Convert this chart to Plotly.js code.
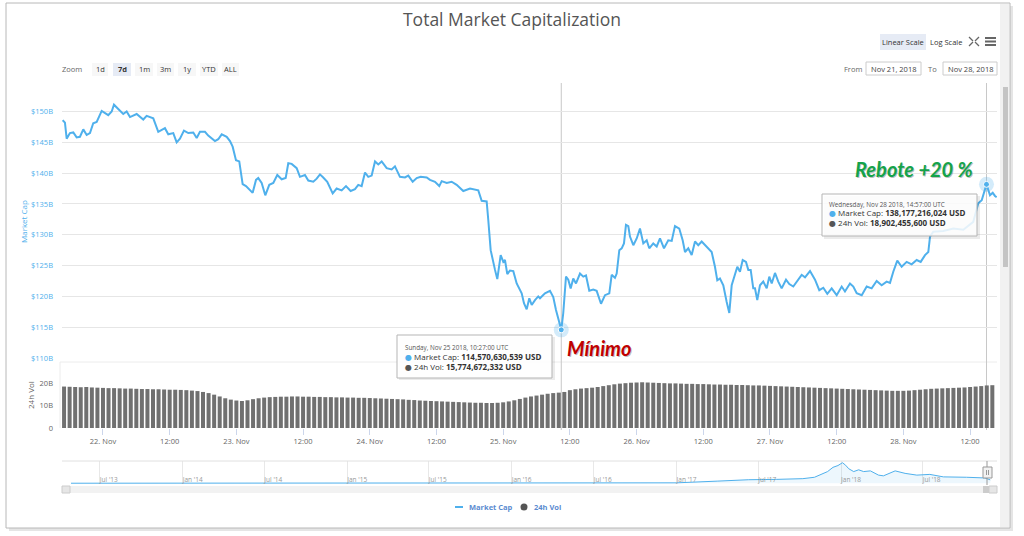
<!DOCTYPE html>
<html><head><meta charset="utf-8">
<script src="https://cdn.plot.ly/plotly-3.0.1.min.js"></script>
<style>html,body{margin:0;padding:0;background:#fff;}#chart{width:1024px;height:536px;}</style>
</head><body><div id="chart"></div>
<script>
// ---------- DATA ----------
// Market cap samples: hours since 2018-11-21 00:00 UTC, value in billions USD
const capHours = [16.75,17.16,17.47,18.06,18.66,19.27,19.86,20.46,21.07,21.66,22.25,22.87,23.77,24.36,24.95,25.57,25.98,26.75,27.65,28.26,28.86,30.06,31.25,31.86,32.76,33.05,33.95,35.15,35.75,36.65,37.26,37.85,38.57,39.35,40.25,40.86,41.45,42.35,42.94,43.56,44.15,44.74,45.36,46.26,46.85,47.33,47.93,48.52,49.13,49.73,50.32,50.93,51.53,51.94,52.55,53.20,53.92,54.64,55.36,56.15,56.87,57.34,57.95,58.85,59.44,60.34,60.94,61.84,62.45,63.04,63.63,64.35,65.33,66.04,66.94,67.72,68.56,69.34,69.93,70.54,71.14,71.73,72.34,72.94,73.53,74.14,75.04,75.94,76.53,77.43,78.33,78.93,79.72,80.44,81.16,82.24,82.83,83.73,84.50,84.94,85.84,86.73,87.63,88.82,90.03,91.52,92.13,93.03,93.32,93.75,94.53,94.94,95.55,96.02,96.32,96.74,97.22,97.82,98.43,99.02,99.33,99.74,100.23,100.70,101.13,101.72,102.31,102.62,103.52,104.42,105.01,105.50,105.91,106.45,106.81,107.30,107.71,108.14,108.61,109.10,109.82,110.41,110.90,111.49,112.21,112.82,113.60,114.32,115.09,115.52,116.11,116.42,116.89,117.32,117.73,118.09,118.51,118.81,119.41,120.02,120.61,121.21,121.82,122.28,123.00,123.62,124.21,124.93,125.70,126.32,126.91,127.68,128.29,128.71,129.30,129.91,130.51,131.10,131.71,132.30,132.90,133.51,134.10,134.52,135.00,135.60,136.21,136.68,137.11,137.70,138.12,138.60,139.09,139.68,140.10,140.53,140.99,141.30,141.71,142.20,142.79,143.41,143.87,144.31,144.90,145.49,146.10,146.88,147.47,148.19,149.09,149.70,150.30,151.20,152.10,152.87,153.59,154.31,155.10,156.00,156.90,157.49,158.39,158.99,159.60,160.50,161.40,162.29,163.19,164.09,164.99,165.59,166.18,166.90,167.69,168.59,169.49,170.39,171.11,171.89,172.48,172.79,173.38,175.18,176.98,178.78,180.57,181.47,182.09,182.37,182.95,183.58,184.07,184.48,184.78];
const capB = [148.6,148.2,145.6,146.5,146.6,145.8,145.9,147.1,146.2,146.5,148.1,148.3,150.1,149.7,149.4,150.0,151.1,150.4,149.6,150.0,149.1,149.6,148.7,149.3,148.9,148.9,146.7,147.3,146.3,146.5,145.0,145.6,146.9,146.5,146.6,145.7,146.7,146.7,146.1,145.7,145.2,145.5,146.3,145.9,145.2,144.3,142.1,141.9,138.2,137.9,137.3,136.8,138.9,139.2,138.4,136.4,138.1,138.4,139.7,139.0,139.2,141.6,141.5,140.8,139.4,139.7,138.8,138.6,139.1,139.8,139.3,138.6,136.7,137.5,137.2,137.9,137.1,137.4,138.1,137.9,140.1,139.4,139.6,141.9,141.4,141.9,140.8,140.6,141.1,139.4,139.3,139.6,138.6,139.2,139.4,139.3,138.9,138.6,137.9,138.7,138.4,138.6,138.1,137.1,137.5,137.2,135.5,135.4,132.4,127.5,124.3,122.8,126.7,125.6,125.9,123.6,124.2,124.1,122.1,121.0,120.5,118.9,117.9,119.7,118.6,119.4,120.0,119.7,120.5,120.9,119.9,117.8,116.2,114.57,117.3,123.2,122.7,121.3,122.9,122.1,123.7,123.2,123.4,120.9,121.1,120.9,118.8,120.2,120.5,123.5,123.0,123.7,127.5,127.8,128.6,131.6,131.4,129.7,128.3,129.4,131.0,128.6,129.1,127.8,128.6,128.1,129.4,127.8,129.1,129.0,131.4,131.0,129.1,127.2,127.8,126.7,128.9,128.3,128.9,128.3,127.8,127.2,124.8,122.6,122.9,121.8,119.1,117.3,121.8,123.5,124.8,124.0,125.9,125.6,124.3,124.3,121.3,121.3,119.4,121.8,122.4,121.3,123.2,122.1,123.8,122.4,121.3,122.7,122.0,121.6,122.7,123.5,123.1,124.1,122.7,121.0,121.4,120.4,121.3,120.2,121.6,120.8,122.1,121.6,120.5,120.2,121.6,121.3,122.5,121.8,122.4,122.2,124.0,125.8,124.8,125.6,125.2,125.9,125.6,126.7,127.2,129.7,130.5,130.6,131.0,130.8,132.1,135.1,135.6,136.4,138.18,136.4,136.8,136.3,136.1];

// 24h volume, hourly: hours since 2018-11-21 00:00 UTC, billions USD
const volHours = [17,18,19,20,21,22,23,24,25,26,27,28,29,30,31,32,33,34,35,36,37,38,39,40,41,42,43,44,45,46,47,48,49,50,51,52,53,54,55,56,57,58,59,60,61,62,63,64,65,66,67,68,69,70,71,72,73,74,75,76,77,78,79,80,81,82,83,84,85,86,87,88,89,90,91,92,93,94,95,96,97,98,99,100,101,102,103,104,105,106,107,108,109,110,111,112,113,114,115,116,117,118,119,120,121,122,123,124,125,126,127,128,129,130,131,132,133,134,135,136,137,138,139,140,141,142,143,144,145,146,147,148,149,150,151,152,153,154,155,156,157,158,159,160,161,162,163,164,165,166,167,168,169,170,171,172,173,174,175,176,177,178,179,180,181,182,183,184];
const volB = [
  18.4,18.3,18.2,18.1,18.2,18.0,17.9,
  17.8,17.7,17.7,17.6,17.5,17.5,17.4,17.3,17.3,17.2,17.2,17.1,17.0,17.0,16.9,16.8,16.6,16.4,16.0,15.5,14.8,14.0,13.2,12.6,
  12.2,12.0,12.3,12.8,13.2,13.5,13.7,13.8,13.9,13.9,14.0,14.0,13.9,13.9,13.8,13.8,13.7,13.7,13.6,13.6,13.5,13.5,13.4,13.4,
  13.3,13.2,13.1,13.0,12.9,12.8,12.7,12.5,12.4,12.2,12.1,12.0,11.9,11.8,11.7,11.6,11.5,11.4,11.3,11.2,11.2,11.1,11.1,11.2,
  11.4,11.8,12.3,12.9,13.5,14.0,14.4,14.8,15.2,15.5,15.7,16.0,16.8,17.2,17.5,17.7,17.9,18.2,18.6,19.0,19.4,19.7,19.9,20.1,
  20.2,20.3,20.2,20.1,20.0,19.9,19.8,19.8,19.7,19.6,19.6,19.5,19.5,19.4,19.3,19.3,19.2,19.2,19.1,19.1,19.0,18.9,18.9,18.8,
  18.7,18.6,18.5,18.4,18.3,18.2,18.1,18.0,17.9,17.8,17.7,17.6,17.5,17.4,17.3,17.2,17.1,17.0,16.9,16.8,16.7,16.6,16.5,16.5,
  16.5,16.6,16.8,17.0,17.2,17.4,17.5,17.6,17.7,17.8,17.9,18.0,18.2,18.4,18.6,18.9,19.0];

// Navigator: full history of total market cap (billions USD)
const navDates = ['2013-04-28','2013-07-01','2013-11-01','2013-12-04','2014-01-15','2014-06-01','2015-01-01','2015-07-01','2016-01-01','2016-07-01','2017-01-01','2017-04-01','2017-06-10','2017-08-10','2017-10-08','2017-11-03','2017-12-02','2017-12-14','2017-12-25','2018-01-04','2018-01-11','2018-01-18','2018-01-29','2018-02-09','2018-02-20','2018-03-07','2018-03-25','2018-04-05','2018-05-01','2018-05-23','2018-06-18','2018-07-17','2018-08-16','2018-10-06','2018-11-16','2018-11-28'];
const navCapB = [1.5,1.2,3,14,11,8,5,4,6,10,17,86,143,157,186,243,472,644,716,830,730,587,472,544,472,500,329,300,500,400,329,358,258,243,215,138];

// Tick labels
const xTickHours = [24,36,48,60,72,84,96,108,120,132,144,156,168,180];
const xTickText = ['22. Nov','12:00','23. Nov','12:00','24. Nov','12:00','25. Nov','12:00','26. Nov','12:00','27. Nov','12:00','28. Nov','12:00'];
const capTicks = [110,115,120,125,130,135,140,145,150,155];
const capTickText = ['$110B','$115B','$120B','$125B','$130B','$135B','$140B','$145B','$150B',''];
const volTicks = [0,10,20];
const volTickText = ['0','10B','20B'];
const navTickDates = ['2013-07-01','2014-01-01','2014-07-01','2015-01-01','2015-07-01','2016-01-01','2016-07-01','2017-01-01','2017-07-01','2018-01-01','2018-07-01'];
const navTickText = ["Jul '13","Jan '14","Jul '14","Jan '15","Jul '15","Jan '16","Jul '16","Jan '17","Jul '17","Jan '18","Jul '18"];

// Highlighted points (tooltips)
const hoverHours = [106.45, 182.95];
const hoverCapB = [114.57, 138.18];
const hoverHeads = ['Sunday, Nov 25 2018, 10:27:00 UTC', 'Wednesday, Nov 28 2018, 14:57:00 UTC'];
const hoverCapText = ['114,570,630,539 USD', '138,177,216,024 USD'];
const hoverVolText = ['15,774,672,332 USD', '18,902,455,600 USD'];

// ---------- HELPERS ----------
const W = 1024, H = 536;
const P = x => x / W, Q = y => 1 - y / H;
const pad = n => String(n).padStart(2, '0');
function hDate(h) {
  const d = new Date(Date.UTC(2018, 10, 21) + Math.round(h * 3600000));
  return d.getUTCFullYear() + '-' + pad(d.getUTCMonth() + 1) + '-' + pad(d.getUTCDate()) + ' ' +
    pad(d.getUTCHours()) + ':' + pad(d.getUTCMinutes()) + ':' + pad(d.getUTCSeconds());
}
const FONT = "'Open Sans', 'DejaVu Sans', sans-serif";
const BLUE = '#4fb0ec';

// ---------- TRACES ----------
const traces = [
  { type: 'bar', x: volHours.map(hDate), y: volB, xaxis: 'x', yaxis: 'y2',
    marker: { color: '#707070', line: { width: 0 } }, name: '24h Vol', showlegend: false, hoverinfo: 'skip' },
  { type: 'scatter', mode: 'lines', x: capHours.map(hDate), y: capB, xaxis: 'x', yaxis: 'y',
    line: { color: BLUE, width: 2 }, name: 'Market Cap', showlegend: false, hoverinfo: 'skip' },
  { type: 'scatter', mode: 'markers', x: hoverHours.map(hDate), y: hoverCapB, xaxis: 'x', yaxis: 'y',
    marker: { size: 15, color: 'rgba(79,176,236,0.25)' }, showlegend: false, hoverinfo: 'skip' },
  { type: 'scatter', mode: 'markers', x: hoverHours.map(hDate), y: hoverCapB, xaxis: 'x', yaxis: 'y',
    marker: { size: 6, color: BLUE, line: { color: '#fff', width: 1 } }, showlegend: false, hoverinfo: 'skip' },
  { type: 'scatter', mode: 'lines', x: navDates, y: navCapB, xaxis: 'x2', yaxis: 'y3',
    fill: 'tozeroy', fillcolor: 'rgba(79,176,236,0.10)', line: { color: BLUE, width: 1 },
    showlegend: false, hoverinfo: 'skip' }
];

// ---------- SHAPES ----------
const shapes = [];
function rect(x0, y0, x1, y1, fill, line, lw, layer) {
  shapes.push({ type: 'rect', xref: 'paper', yref: 'paper', x0: P(x0), x1: P(x1), y0: Q(y1), y1: Q(y0), layer: layer || 'above',
    fillcolor: fill || 'rgba(0,0,0,0)', line: { color: line || 'rgba(0,0,0,0)', width: lw === undefined ? 1 : lw } });
}
function hline(x0, x1, y, color, w, layer) {
  shapes.push({ type: 'line', xref: 'paper', yref: 'paper', layer: layer || 'above', x0: P(x0), x1: P(x1), y0: Q(y), y1: Q(y), line: { color: color, width: w || 1 } });
}
function vline(x, y0, y1, color, w, layer) {
  shapes.push({ type: 'line', xref: 'paper', yref: 'paper', layer: layer || 'above', x0: P(x), x1: P(x), y0: Q(y0), y1: Q(y1), line: { color: color, width: w || 1 } });
}
// frame shadow + frame
rect(9, 6, 1013, 531, 'rgba(0,0,0,0.10)', 'rgba(0,0,0,0)', 0, 'below');
rect(6, 3, 1010, 528, '#ffffff', '#b8b8b8', 1, 'below');
// right scrollbar column
rect(1000, 4, 1009, 527, '#f1f1f1', 'rgba(0,0,0,0)', 0);
rect(1003, 87, 1008, 267, '#c4c4c4', 'rgba(0,0,0,0)', 0);
// toolbar buttons
const zoomButtons = [['1d', 92, 108], ['7d', 113, 131], ['1m', 135, 153], ['3m', 157, 174], ['1y', 178, 196], ['YTD', 200, 218], ['ALL', 222, 239]];
zoomButtons.forEach(b => rect(b[1], 63, b[2], 76, b[0] === '7d' ? '#e6ebf5' : '#f7f7f7', 'rgba(0,0,0,0)', 0));
rect(880, 34, 926, 50, '#e6ebf5', 'rgba(0,0,0,0)', 0);
rect(866, 62, 921, 75, '#ffffff', '#cccccc', 1);
rect(943, 62, 997, 75, '#ffffff', '#cccccc', 1);
// hamburger icon
[38, 41.5, 45].forEach(y => hline(985, 996, y, '#666', 2));
// collapse icon: four small inward arrows
[[969, 37, 973, 41], [979, 37, 975, 41], [969, 46, 973, 42], [979, 46, 975, 42]].forEach(s =>
  shapes.push({ type: 'line', xref: 'paper', yref: 'paper', x0: P(s[0]), x1: P(s[2]), y0: Q(s[1]), y1: Q(s[3]), line: { color: '#666', width: 1.3 } }));
// volume panel border
hline(60, 997, 362, '#ececec', 1, 'below');
vline(60, 362, 428, '#ececec', 1, 'below');
// crosshairs
hoverHours.forEach(h => shapes.push({ type: 'line', xref: 'x', yref: 'paper', layer: 'below', x0: hDate(h), x1: hDate(h), y0: Q(430), y1: Q(83), line: { color: '#c8c8c8', width: 1 } }));
// tooltip boxes
rect(399, 337, 555, 380, 'rgba(0,0,0,0.08)', 'rgba(0,0,0,0)', 0);
rect(397, 335, 552, 378, 'rgba(255,255,255,0.92)', '#b5b5b5', 1);
rect(824, 196, 980, 239, 'rgba(0,0,0,0.08)', 'rgba(0,0,0,0)', 0);
rect(822, 194, 977, 236, 'rgba(255,255,255,0.85)', '#b5b5b5', 1);
// navigator
hline(62, 997, 461, '#e0e0e0', 1);
vline(987, 461, 485, '#999', 1);
rect(983, 467, 992, 478, '#f2f2f2', '#999', 1);
vline(986.5, 470, 475, '#999', 1);
vline(988.5, 470, 475, '#999', 1);
// navigator scrollbar
rect(62, 486, 997, 493, '#f2f2f2', 'rgba(0,0,0,0)', 0);
rect(62, 486, 70, 493, '#e6e6e6', '#cccccc', 1);
rect(989, 486, 997, 493, '#e6e6e6', '#cccccc', 1);
rect(983, 486, 989, 493, '#cccccc', 'rgba(0,0,0,0)', 0);
// legend symbols
hline(455, 463, 507, BLUE, 2);
shapes.push({ type: 'circle', xref: 'paper', yref: 'paper', x0: P(520.5), x1: P(527.5), y0: Q(510.5), y1: Q(503.5), fillcolor: '#555', line: { width: 0 } });

// ---------- ANNOTATIONS ----------
const ann = [];
function txt(x, y, text, opts) {
  const o = Object.assign({ size: 8, color: '#666', xanchor: 'center', weight: 'normal', angle: 0, style: 'normal' }, opts || {});
  ann.push({ xref: 'paper', yref: 'paper', x: P(x), y: Q(y), text: text, showarrow: false,
    xanchor: o.xanchor, yanchor: 'middle', textangle: o.angle,
    font: { family: o.family || FONT, size: o.size, color: o.color, weight: o.weight, style: o.style } });
}
txt(72, 69, 'Zoom', { size: 7.5, color: '#666' });
zoomButtons.forEach(b => txt((b[1] + b[2]) / 2, 69.5, b[0], { size: 7.5, color: '#333', weight: b[0] === '7d' ? 'bold' : 'normal' }));
txt(903, 42, 'Linear Scale', { size: 7.5, color: '#333' });
txt(946, 42, 'Log Scale', { size: 7.5, color: '#333' });
txt(853, 69, 'From', { size: 7.5, color: '#666' });
txt(893.5, 69, 'Nov 21, 2018', { size: 7.5, color: '#444' });
txt(932, 69, 'To', { size: 7.5, color: '#666' });
txt(970, 69, 'Nov 28, 2018', { size: 7.5, color: '#444' });
txt(23, 222, 'Market Cap', { size: 8, color: BLUE, angle: -90 });
txt(30, 395, '24h Vol', { size: 8, color: '#666', angle: -90 });
// tooltips
const tipBoxes = [[403, 347, 356, 366], [827, 204, 213, 222]];
tipBoxes.forEach((b, i) => {
  txt(b[0], b[1], hoverHeads[i], { size: 6.3, color: '#555', xanchor: 'left' });
  txt(b[0], b[2], "<span style='color:" + BLUE + "'>●</span> Market Cap: <b>" + hoverCapText[i] + "</b>", { size: 8, color: '#333', xanchor: 'left' });
  txt(b[0], b[3], "<span style='color:#555'>●</span> 24h Vol: <b>" + hoverVolText[i] + "</b>", { size: 8, color: '#333', xanchor: 'left' });
});
// highlight labels
txt(600, 349, 'Mínimo', { size: 20, color: 'rgba(0,0,0,0.25)', weight: 'bold', style: 'italic', family: 'Lato, sans-serif' });
txt(599, 348, 'Mínimo', { size: 20, color: '#c00000', weight: 'bold', style: 'italic', family: 'Lato, sans-serif' });
txt(915, 170, 'Rebote +20 %', { size: 20, color: 'rgba(0,0,0,0.25)', weight: 'bold', style: 'italic', family: 'Lato, sans-serif' });
txt(914, 169, 'Rebote +20 %', { size: 20, color: '#14a34a', weight: 'bold', style: 'italic', family: 'Lato, sans-serif' });
// legend
txt(467, 507, 'Market Cap', { size: 7.5, color: '#5b8bd0', xanchor: 'left', weight: 'bold' });
txt(532, 507, '24h Vol', { size: 7.5, color: '#5b8bd0', xanchor: 'left', weight: 'bold' });

// ---------- LAYOUT ----------
const layout = {
  width: W, height: H, margin: { l: 0, r: 0, t: 0, b: 0 },
  paper_bgcolor: '#ffffff', plot_bgcolor: 'rgba(0,0,0,0)',
  font: { family: FONT, color: '#666' },
  title: { text: 'Total Market Capitalization', x: 0.5, xanchor: 'center', y: Q(20), yanchor: 'middle',
    font: { family: FONT, size: 17.5, color: '#555' } },
  showlegend: false, bargap: 0.28,
  xaxis: { domain: [P(62), P(997)], anchor: 'y2', type: 'date', range: [hDate(16.63), hDate(184.84)],
    tickvals: xTickHours.map(hDate), ticktext: xTickText, ticks: 'outside', ticklen: 6, tickcolor: '#ccd6eb',
    tickfont: { size: 7.5, color: '#666' }, showgrid: false, showline: false, zeroline: false, fixedrange: true },
  yaxis: { domain: [Q(358), Q(80.7)], range: [110, 155], tickvals: capTicks, ticktext: capTickText,
    tickfont: { size: 7.5, color: BLUE }, gridcolor: '#e6e6e6', gridwidth: 1, zeroline: false, showline: false,
    ticks: '', ticklabelstandoff: 8 },
  yaxis2: { domain: [Q(428), Q(362)], range: [0, 29.3], tickvals: volTicks, ticktext: volTickText,
    tickfont: { size: 7.5, color: '#666' }, showgrid: false, zeroline: false, showline: false, ticks: '', ticklabelstandoff: 8 },
  xaxis2: { domain: [P(62), P(997)], anchor: 'y3', type: 'date', range: ['2013-04-08', '2018-12-13'],
    tickvals: navTickDates, ticktext: navTickText, ticklabelposition: 'inside right', ticks: '', ticklabelstandoff: -5,
    tickfont: { size: 6.5, color: '#999' }, showgrid: true, gridcolor: '#e8e8e8', showline: false, zeroline: false },
  yaxis3: { domain: [Q(484), Q(461)], range: [-30, 900], visible: false, showgrid: false, zeroline: false },
  shapes: shapes, annotations: ann
};

Plotly.newPlot('chart', traces, layout, { staticPlot: true, displayModeBar: false });
</script></body></html>
